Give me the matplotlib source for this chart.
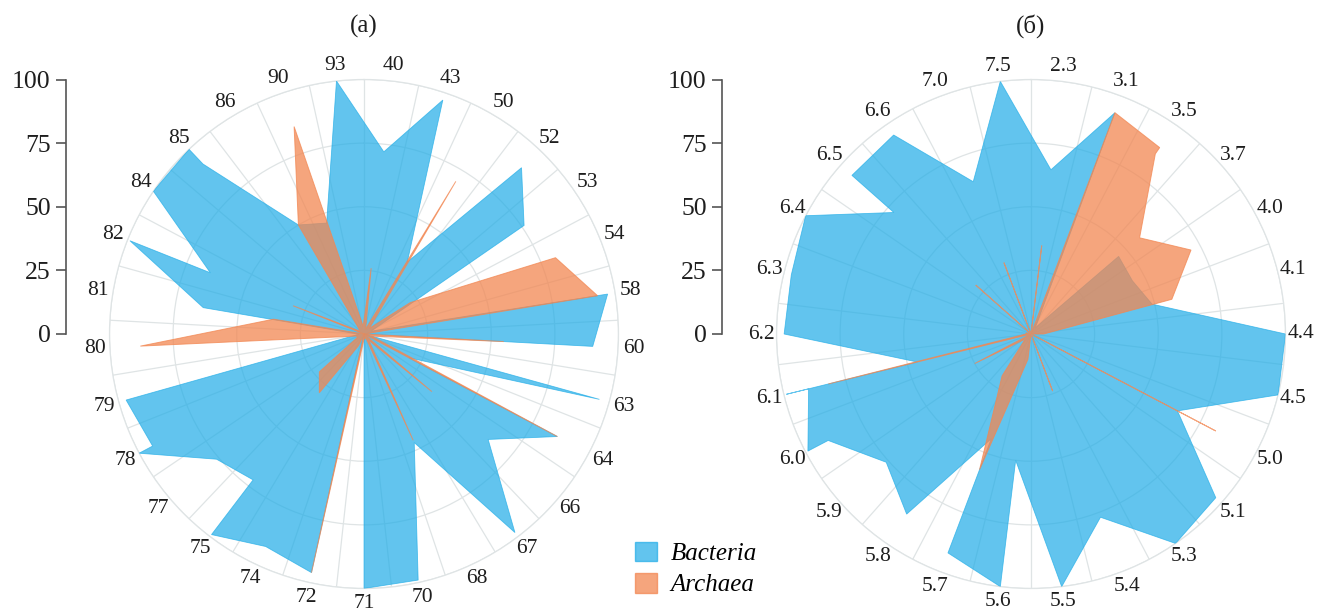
import numpy as np
import matplotlib
matplotlib.use("Agg")
import matplotlib.pyplot as plt
from matplotlib.ticker import FixedLocator
from matplotlib.patches import Patch

plt.rcParams['font.family'] = ['Liberation Serif', 'DejaVu Serif']

# ---------------- data: panel (a) ----------------
cats_a = ["93", "40", "43", "50", "52", "53", "54", "58", "60", "63", "64", "66", "67", "68",
          "70", "71", "72", "74", "75", "77", "78", "79", "80", "81", "82", "84", "85", "86", "90"]

bac_a_cat = ["93", "40", "43", "50", "52", "53", "54", "58", "60", "60", "63", "64", "64", "66",
             "67", "68", "70", "71", "71", "72", "74", "75", "75", "77", "78", "78", "79", "80",
             "81", "82", "82", "84", "85", "85", "86", "90"]
bac_a_val = [100, 72, 97, 33, 90, 76, 3, 97, 90, 0, 96, 20, 86, 64,
             98, 47, 99, 100, 0, 96, 92, 99, 72, 76, 100, 94, 97, 2,
             64, 99, 65, 100, 100, 92, 50, 46]

arc_a_cat = ["93", "40", "43", "50", "52", "53", "54", "58", "60", "60", "63", "64", "64", "66",
             "67", "68", "68", "70", "71", "72", "72", "74", "75", "77", "78", "79", "80", "81",
             "82", "82", "84", "85", "86", "90"]
arc_a_val = [3, 26, 2, 70, 3, 22, 81, 93, 0, 55, 3, 86, 0, 35,
             3, 46, 0, 2, 2, 96, 0, 5, 29, 23, 3, 3, 88, 36,
             0, 30, 2, 3, 50, 86]

# ---------------- data: panel (б) ----------------
cats_b = ["7.5", "2.3", "3.1", "3.5", "3.7", "4.0", "4.1", "4.4", "4.5", "5.0", "5.1", "5.3", "5.4",
          "5.5", "5.6", "5.7", "5.8", "5.9", "6.0", "6.1", "6.2", "6.3", "6.4", "6.5", "6.6", "7.0"]

bac_b_cat = ["7.5", "2.3", "3.1", "3.5", "3.7", "4.0", "4.1", "4.4", "4.5", "5.0", "5.1", "5.3",
             "5.4", "5.5", "5.6", "5.6", "5.7", "5.7", "5.8", "5.9", "6.0", "6.0", "6.1", "6.1",
             "6.1", "6.2", "6.3", "6.4", "6.5", "6.5", "6.6", "7.0"]
bac_b_val = [100, 65, 93, 3, 46, 45, 49, 100, 100, 65, 97, 100,
             77, 100, 50, 100, 92, 44, 86, 76, 90, 99, 90, 99,
             46, 97, 97, 100, 72, 94, 95, 64]

arc_b_cat = ["7.5", "2.3", "2.3", "3.1", "3.5", "3.5", "3.7", "4.0", "4.1", "4.4", "4.5", "5.0",
             "5.1", "5.3", "5.4", "5.5", "5.6", "5.7", "5.8", "5.9", "6.0", "6.1", "6.1", "6.2",
             "6.3", "6.4", "6.5", "6.6", "7.0"]
arc_b_val = [0, 35, 0, 93, 89, 86, 57, 71, 57, 5, 0, 82,
             0, 0, 24, 0, 10, 57, 20, 3, 25, 0, 82, 2,
             2, 0, 29, 0, 30]

r_ticks = [0, 25, 50, 75, 100]
titles = ["(a)", "(б)"]
legend_labels = ["Bacteria", "Archaea"]

# ---------------- style ----------------
BLUE = (31 / 255, 172 / 255, 231 / 255)
ORANGE = (242 / 255, 135 / 255, 82 / 255)
GRID = '#dfe4e5'
TXT = '#1e1e1e'
W, H = 1322, 614
TWO_PI = 2 * np.pi

fig = plt.figure(figsize=(W / 100, H / 100), dpi=100)


def px_box(cx, cy, r):
    return [(cx - r) / W, (H - cy - r) / H, 2 * r / W, 2 * r / H]


def radar(cx, cy, R, cats, bcat, bval, acat, aval, yaxis_x, title):
    ax = fig.add_axes(px_box(cx, cy, R), projection='polar')
    ax.set_theta_zero_location('N')
    ax.set_theta_direction(-1)
    n = len(cats)
    step = TWO_PI / n
    centers = ((np.arange(n) - 0.5) * step) % TWO_PI
    bounds = np.arange(n) * step
    idx = {c: i for i, c in enumerate(cats)}

    def poly(cl, vl):
        th = np.array([centers[idx[c]] for c in cl])
        r = np.array(vl, dtype=float)
        return np.append(th, th[0]), np.append(r, r[0])

    th, r = poly(bcat, bval)
    ax.fill(th, r, facecolor=BLUE, alpha=0.7, edgecolor=BLUE, linewidth=0.6, zorder=3)
    th, r = poly(acat, aval)
    ax.fill(th, r, facecolor=ORANGE, alpha=0.75, edgecolor=ORANGE, linewidth=0.7, zorder=4)

    ax.set_xticks(centers)
    ax.set_xticklabels(cats, fontsize=15.5, color=TXT)
    ax.xaxis.set_minor_locator(FixedLocator(bounds))
    ax.set_xlim(0, TWO_PI)
    ax.set_ylim(0, 100)
    ax.set_yticks(r_ticks[1:])
    ax.set_yticklabels([])
    ax.tick_params(axis='x', which='both', length=0, pad=4)
    ax.tick_params(axis='y', which='both', length=0)
    ax.grid(False, which='major', axis='x')
    ax.grid(True, which='minor', axis='x', color=GRID, linewidth=0.9)
    ax.grid(True, which='major', axis='y', color=GRID, linewidth=0.9)
    ax.spines['polar'].set_color(GRID)
    ax.spines['polar'].set_linewidth(0.9)
    ax.set_axisbelow(True)

    # separate vertical radial scale
    ay = fig.add_axes([yaxis_x / W, (H - cy) / H, 0.0005, R / H])
    ay.set_ylim(0, 100)
    ay.set_yticks(r_ticks)
    ay.set_yticklabels([str(v) for v in r_ticks], fontsize=18.5, color=TXT)
    ay.set_xticks([])
    for s in ['top', 'right', 'bottom']:
        ay.spines[s].set_visible(False)
    ay.spines['left'].set_color('#555555')
    ay.spines['left'].set_linewidth(1.2)
    ay.tick_params(axis='y', direction='out', length=7, width=1.2, color='#555555', pad=4)
    ay.patch.set_visible(False)

    fig.text(cx / W, 1 - 26 / H, title, ha='center', va='center', fontsize=18, color=TXT)
    return ax


radar(364, 334, 254.5, cats_a, bac_a_cat, bac_a_val, arc_a_cat, arc_a_val, 66, titles[0])
radar(1031, 334, 254.5, cats_b, bac_b_cat, bac_b_val, arc_b_cat, arc_b_val, 722, titles[1])

handles = [Patch(facecolor=BLUE, alpha=0.7, edgecolor=BLUE),
           Patch(facecolor=ORANGE, alpha=0.75, edgecolor=ORANGE)]
fig.legend(handles, legend_labels, loc='upper left', bbox_to_anchor=(617 / W, 1 - 524 / H),
           frameon=False, prop={'style': 'italic', 'size': 18}, handlelength=0.9,
           handleheight=0.85, handletextpad=0.55, labelspacing=0.3, borderpad=0.2)

fig.savefig('out.png', dpi=100)
